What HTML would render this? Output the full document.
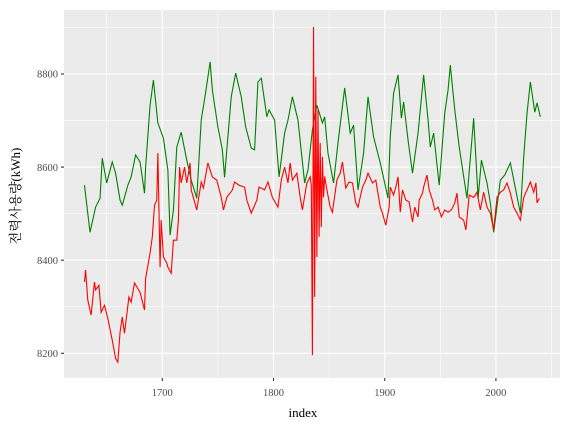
<!DOCTYPE html>
<html><head><meta charset="utf-8"><style>
html,body{margin:0;padding:0;background:#fff;}
svg{display:block;font-family:"Liberation Serif","Noto Serif CJK SC",serif;}
</style></head><body>
<svg id="chart" width="570" height="430" viewBox="0 0 570 430" xmlns="http://www.w3.org/2000/svg">
<rect x="64" y="10" width="496" height="368" fill="#ebebeb"/>
<g id="grid"></g>
<g id="series"></g>
<g id="axes"></g>
<text x="303" y="417" font-size="13" text-anchor="middle" fill="#000">index</text>
<text transform="translate(20,196) rotate(-90)" font-size="13" text-anchor="middle" fill="#000" style="font-family:'Liberation Serif','Noto Serif CJK SC',serif">전력사용량(kWh)</text>
</svg>
<script>
const xTicks = [1700, 1800, 1900, 2000];
const xMinor = [1650, 1750, 1850, 1950, 2050];
const yTicks = [8200, 8400, 8600, 8800];
const yMinor = [8300, 8500, 8700, 8900];

const greenIdx = [1630,1635,1640,1644,1646,1650,1655,1658,1662,1664,1669,1672,1676,1680,1684,1685,1689,1692,1696,1701,1705,1707,1710,1713,1717,1722,1726,1731,1735,1739,1743,1745,1750,1754,1756,1758,1762,1766,1771,1775,1780,1783,1786,1789,1794,1796,1801,1805,1810,1813,1817,1822,1828,1831,1835,1839,1844,1846,1849,1854,1858,1864,1869,1872,1876,1881,1885,1890,1896,1903,1905,1908,1912,1915,1917,1921,1925,1930,1935,1939,1941,1944,1949,1954,1957,1959,1963,1967,1974,1980,1984,1987,1992,1995,1998,2004,2008,2013,2017,2022,2025,2028,2031,2035,2037,2040];
const greenVal = [8561,8460,8514,8533,8619,8566,8611,8587,8529,8518,8561,8579,8626,8611,8544,8600,8733,8787,8695,8662,8594,8454,8508,8643,8675,8615,8572,8533,8701,8761,8826,8766,8686,8637,8578,8637,8751,8802,8751,8686,8641,8637,8783,8791,8708,8723,8701,8579,8673,8701,8751,8701,8566,8594,8680,8733,8695,8708,8630,8566,8652,8770,8673,8690,8551,8630,8751,8665,8609,8533,8665,8759,8798,8705,8740,8658,8587,8673,8798,8701,8643,8673,8561,8716,8766,8819,8723,8643,8533,8705,8533,8615,8566,8523,8460,8572,8583,8609,8561,8501,8622,8716,8783,8718,8738,8708];

const redIdx = [1630,1631,1633,1636,1639,1640,1643,1645,1648,1651,1655,1658,1660,1662,1664,1666,1670,1672,1675,1680,1684,1685,1689,1691,1693,1695,1696,1698,1699,1701,1704,1705,1708,1710,1713,1714.5,1715.5,1717,1720,1722,1725,1726,1731,1735,1737,1741,1745,1749,1753,1755,1758,1763,1765,1769,1774,1776,1780,1785,1787,1792,1795,1799,1804,1807,1810,1813,1815,1817,1821,1824,1826,1830,1833,1834,1835,1836,1837,1838,1839,1840,1841,1842,1843,1844,1845,1846,1848,1851,1853,1857,1860,1862,1865,1868,1871,1874,1876,1880,1883,1885,1889,1892,1896,1898,1901,1904,1905,1908,1910,1912,1914,1916,1919,1922,1925,1927,1930,1931,1934,1935,1938,1940,1943,1945,1948,1951,1954,1957,1960,1963,1965,1967,1971,1973,1976,1980,1983,1986,1989,1992,1995,1998,2001,2004,2007,2010,2013,2016,2019,2022,2025,2028,2031,2034,2036,2037,2039];
const redVal = [8353,8379,8314,8282,8353,8336,8346,8288,8303,8275,8228,8189,8181,8245,8278,8243,8321,8310,8351,8331,8293,8361,8415,8450,8518,8529,8630,8385,8486,8407,8394,8385,8372,8443,8443,8486,8600,8566,8600,8566,8609,8551,8508,8568,8555,8609,8579,8572,8535,8508,8535,8551,8568,8561,8557,8529,8501,8529,8557,8551,8568,8535,8514,8572,8600,8566,8609,8572,8587,8535,8508,8566,8579,8560,8196,8901,8321,8794,8407,8723,8450,8652,8471,8622,8535,8580,8551,8514,8503,8572,8587,8611,8555,8568,8566,8523,8514,8557,8572,8587,8566,8572,8514,8501,8475,8514,8557,8540,8557,8579,8503,8551,8529,8525,8482,8514,8493,8529,8544,8557,8583,8551,8529,8508,8514,8493,8508,8503,8508,8523,8544,8493,8486,8465,8540,8535,8546,8508,8546,8514,8501,8465,8535,8546,8551,8566,8544,8514,8501,8486,8535,8551,8568,8546,8566,8523,8533];

const X0 = 162.3, XK = 1.112, Y0 = 353.3, YK = 0.4655;
function xs(v){ return X0 + (v - 1700) * XK; }
function ys(v){ return Y0 - (v - 8200) * YK; }
const NS = 'http://www.w3.org/2000/svg';
function mk(tag, attrs, parent){
  const e = document.createElementNS(NS, tag);
  for (const k in attrs) e.setAttribute(k, attrs[k]);
  parent.appendChild(e);
  return e;
}
const grid = document.getElementById('grid');
const axes = document.getElementById('axes');
const series = document.getElementById('series');

xMinor.forEach(v => {
  const l = mk('line', {x1: xs(v), x2: xs(v), y1: 10, y2: 378, stroke: '#fff', 'stroke-width': 0.55}, grid);
  
  
});
yMinor.forEach(v => {
  const l = mk('line', {x1: 64, x2: 560, y1: ys(v), y2: ys(v), stroke: '#fff', 'stroke-width': 0.55}, grid);
  
  
});
xTicks.forEach(v => {
  const l = mk('line', {x1: xs(v), x2: xs(v), y1: 10, y2: 378, stroke: '#fff', 'stroke-width': 1.1}, grid);
  
  
  const t = mk('line', {x1: xs(v), x2: xs(v), y1: 378, y2: 381, stroke: '#333', 'stroke-width': 1.1}, axes);
  
  
  const tx = mk('text', {x: xs(v), y: 396, 'font-size': 10.5, fill: '#4d4d4d', 'text-anchor': 'middle'}, axes);
  
  
  tx.textContent = v;
});
yTicks.forEach(v => {
  const l = mk('line', {x1: 64, x2: 560, y1: ys(v), y2: ys(v), stroke: '#fff', 'stroke-width': 1.1}, grid);
  
  
  const t = mk('line', {x1: 61, x2: 64, y1: ys(v), y2: ys(v), stroke: '#333', 'stroke-width': 1.1}, axes);
  
  
  const tx = mk('text', {x: 58, y: ys(v) + 3.7, 'font-size': 10.5, fill: '#4d4d4d', 'text-anchor': 'end'}, axes);
  
  
  tx.textContent = v;
});

function pathFor(idx, val){
  return idx.map((x, i) => (i ? 'L' : 'M') + xs(x).toFixed(2) + ',' + ys(val[i]).toFixed(2)).join(' ');
}
const g = mk('path', {d: pathFor(greenIdx, greenVal), fill: 'none', stroke: '#008000', 'stroke-width': 1.1}, series);


const r = mk('path', {d: pathFor(redIdx, redVal), fill: 'none', stroke: '#ff0000', 'stroke-width': 1.1}, series);


</script>
</body></html>
